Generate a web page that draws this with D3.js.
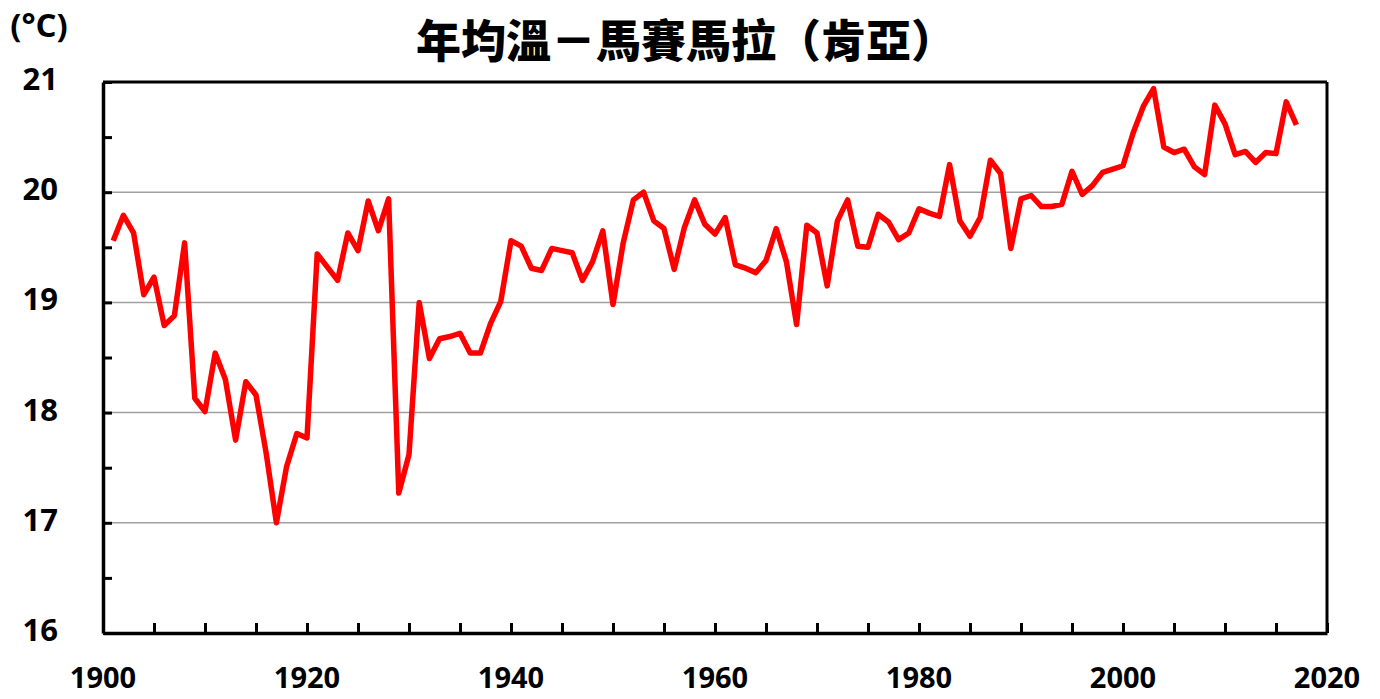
<!DOCTYPE html>
<html><head><meta charset="utf-8">
<script src="https://cdn.jsdelivr.net/npm/d3@7"></script>
<style>body{margin:0;background:#fff}</style>
</head><body>
<svg id="c" width="1380" height="699"></svg>
<script>
const years = d3.range(1901, 2018);
const temps = [
19.56,19.79,19.63,19.07,19.23,18.79,18.88,19.54,18.13,18.01,
18.54,18.30,17.75,18.28,18.16,17.63,17.00,17.51,17.81,17.77,
19.44,19.32,19.20,19.63,19.47,19.92,19.65,19.94,17.27,17.62,
19.00,18.49,18.67,18.69,18.72,18.54,18.54,18.81,19.01,19.56,
19.51,19.31,19.29,19.49,19.47,19.45,19.20,19.37,19.65,18.98,
19.54,19.93,20.00,19.74,19.67,19.30,19.68,19.93,19.71,19.62,
19.77,19.34,19.31,19.27,19.38,19.67,19.37,18.80,19.70,19.63,
19.15,19.74,19.93,19.51,19.50,19.80,19.73,19.57,19.63,19.85,
19.81,19.78,20.25,19.74,19.60,19.77,20.29,20.17,19.49,19.94,
19.97,19.87,19.87,19.89,20.19,19.98,20.06,20.18,20.21,20.24,
20.54,20.78,20.94,20.41,20.36,20.39,20.23,20.16,20.79,20.62,
20.34,20.37,20.27,20.36,20.35,20.82,20.61];
const xTickLabels = [1900,1920,1940,1960,1980,2000,2020];
const yTickLabels = [16,17,18,19,20,21];
const gridValues = [17,18,19,20];
const titleText = "年均溫－馬賽馬拉（肯亞）";
const unitText = "(°C)";

const svg = d3.select("#c");
const L=103, R=1327, T=82, B=633;
const x = d3.scaleLinear().domain([1900,2020]).range([L,R]);
const y = d3.scaleLinear().domain([16,21]).range([B,T]);
const labelFont = "'Open Sans','Liberation Sans',sans-serif";

// grid
svg.append("g").selectAll("line").data(gridValues).join("line")
  .attr("x1",L).attr("x2",R).attr("y1",d=>y(d)).attr("y2",d=>y(d))
  .attr("stroke","#a0a0a0").attr("stroke-width",1.5);

// frame top/right
svg.append("line").attr("x1",L).attr("x2",R).attr("y1",T).attr("y2",T).attr("stroke","#000").attr("stroke-width",3);
svg.append("line").attr("x1",R).attr("x2",R).attr("y1",T).attr("y2",B).attr("stroke","#000").attr("stroke-width",3);

// y axis
const yAxis = d3.axisLeft(y).tickValues(d3.range(16,21.01,0.5)).tickSizeInner(-9).tickSizeOuter(0).tickFormat("");
const gy = svg.append("g").attr("transform",`translate(${L},0)`).call(yAxis);
gy.select(".domain").attr("stroke","#000").attr("stroke-width",3.5);
gy.selectAll(".tick line").attr("stroke","#000").attr("stroke-width",3);
svg.append("g").selectAll("text").data(yTickLabels).join("text")
  .attr("x",58).attr("y",d=>y(d)+8).attr("text-anchor","end")
  .attr("font-family",labelFont).attr("font-weight",700).attr("font-size",31)
  .text(d=>d);

// x axis
const xAxis = d3.axisBottom(x).tickValues(d3.range(1900,2021,5)).tickSizeInner(-10).tickSizeOuter(0).tickFormat("");
const gx = svg.append("g").attr("transform",`translate(0,${B})`).call(xAxis);
gx.select(".domain").attr("stroke","#000").attr("stroke-width",3.5);
gx.selectAll(".tick line").attr("stroke","#000").attr("stroke-width",3);
svg.append("g").selectAll("text").data(xTickLabels).join("text")
  .attr("x",d=>x(d)).attr("y",688).attr("text-anchor","middle")
  .attr("font-family",labelFont).attr("font-weight",700).attr("font-size",29)
  .text(d=>d);

// line
const line = d3.line().x((d,i)=>x(years[i])).y(d=>y(d));
svg.append("path").datum(temps).attr("d",line).attr("fill","none")
  .attr("stroke","#ff0000").attr("stroke-width",5.5).attr("stroke-linejoin","round");

// title
svg.append("text").attr("x",686).attr("y",42).attr("dy","0.36em").attr("text-anchor","middle")
  .attr("font-family","'Noto Sans CJK TC','Noto Sans CJK SC',sans-serif").attr("font-weight",900).attr("font-size",45)
  .text(titleText);
svg.append("text").attr("x",39).attr("y",37).attr("text-anchor","middle")
  .attr("font-family",labelFont).attr("font-weight",700).attr("font-size",33)
  .text(unitText);
</script>
</body></html>
